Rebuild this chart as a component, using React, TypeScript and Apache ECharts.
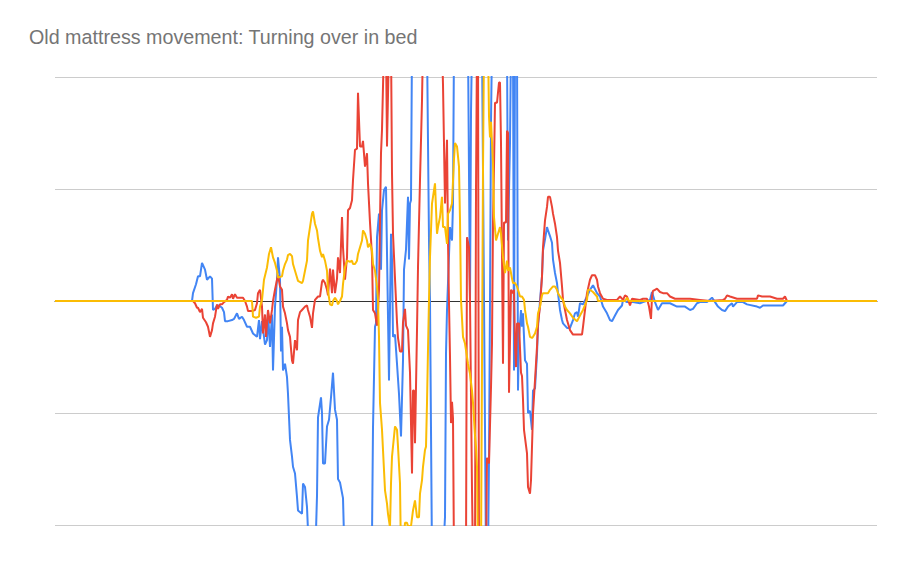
import React, { useEffect, useRef } from "react";
import * as echarts from "echarts";

// sample index (x) and acceleration (y)
const blue: [number, number][] = [
  [0, 0], [67.5, 0], [68.5, 0], [69, 0.07], [70.5, 0.15], [71.5, 0.22], [72.5, 0.22], [73.5, 0.34], [74.5, 0.3], [75, 0.28],
  [76, 0.19], [77.5, 0.22], [78.5, 0.2], [79, -0.08], [80, -0.07], [81, -0.04], [82, -0.04], [83.5, -0.06], [84.5, -0.1], [85, -0.18],
  [86.5, -0.18], [88.5, -0.17], [89.5, -0.16], [91, -0.11], [92, -0.16], [93.5, -0.14], [94.5, -0.17], [96, -0.23], [97.5, -0.23], [99, -0.29],
  [101, -0.32], [102, -0.17], [102.5, -0.34], [103.5, -0.18], [105, -0.39], [106, -0.35], [106.5, -0.1], [107.5, -0.41], [108.5, -0.12], [109, -0.62],
  [110, -0.05], [111, 0.19], [111.5, 0.39], [112.5, 0.19], [113, -0.45], [113.5, -0.23], [114, -0.62], [115, -0.56], [116, -0.68], [116.5, -0.83],
  [117.5, -1.24], [118.5, -1.39], [119, -1.48], [120, -1.54], [121, -1.75], [121.5, -1.87], [123.5, -1.9], [124, -1.63], [125, -1.66], [126, -1.84],
  [126.5, -2.05], [128, -2.4], [130, -2.4], [130.5, -2.05], [131, -1.74], [131.5, -1.04], [133, -0.86], [133.5, -1.0], [134, -1.45], [135, -1.45],
  [136, -1.12], [137, -1.06], [138, -0.86], [139, -0.64], [140, -0.97], [141, -1.06], [141.5, -1.59], [142.5, -1.62], [144, -1.76], [144.5, -2.1],
  [145.5, -2.4], [157.5, -2.4], [158.5, -2.1], [159, -1.13], [160, -0.23], [160.5, -0.2], [161, 0.57], [162, 0.78], [163, 0.28], [163.5, 0.81],
  [164.5, 0.99], [165.5, 1.02], [166, 0.43], [167, -0.71], [168, 0.6], [168.5, 0.37], [169, -0.32], [170, -0.3], [171, -0.56], [172, -0.83],
  [173, -1.21], [174, -0.53], [174.5, 0.28], [175.5, 0.46], [176.5, 0.93], [177, 0.37], [177.5, 0.87], [178, 0.9], [178.5, 2.3], [182.5, 2.4],
  [186, 2.3], [187, 0.54], [187.5, 0.0], [188.5, -2.3], [191.5, -2.4], [194.5, -2.1], [195, -1.93], [195.5, -0.47], [196, -0.08], [196.5, 0.16],
  [197.5, 0.66], [198, 0.6], [198.5, 0.54], [199, 0.87], [199.5, 2.3], [203.5, 2.4], [206.5, 2.3], [207.5, -0.02], [208, 1.68], [208.5, 2.3],
  [212.5, 2.4], [213.5, 2.3], [214, 1.17], [215.5, -2.3], [216.5, -2.3], [217, -1.4], [217.5, 0.0], [218, 1.6], [218.5, 2.3], [222.5, 2.4],
  [226, 2.3], [226.5, 0.54], [227.5, 1.41], [228, 2.3], [229, 2.3], [229.5, -0.62], [230, 2.3], [231, 2.3], [231.5, -0.8], [232, -0.32],
  [233, -0.08], [233.5, -0.23], [234, -0.11], [235, -0.53], [236, -0.56], [236.5, -1.0], [237.5, -0.98], [238.5, -1.15], [239, -0.8], [240, -0.78],
  [241, -0.47], [241.5, -0.23], [242.5, 0.0], [243.5, 0.22], [244, 0.45], [245, 0.55], [246, 0.66], [246.5, 0.63], [247.5, 0.58], [248.5, 0.52],
  [249, 0.37], [250, 0.25], [251, 0.16], [251.5, 0.07], [252.5, -0.08], [253.5, -0.17], [254, -0.2], [256, -0.24], [257.5, -0.24], [259, -0.17],
  [260, -0.11], [261, -0.1], [261.5, -0.14], [262.5, -0.02], [264, -0.03], [266, 0.04], [267.5, 0.1], [269, 0.14], [271, 0.07], [272.5, 0.04],
  [274, -0.05], [276, -0.11], [277.5, -0.17], [278.5, -0.18], [280, -0.13], [281.5, -0.08], [283.5, -0.04], [284, 0.01], [286, -0.01], [287.5, -0.01],
  [289, -0.01], [292.5, -0.02], [294, -0.01], [297.5, 0.01], [298.5, 0.08], [300, -0.01], [301.5, -0.08], [303.5, -0.02], [305, -0.02], [307.5, -0.02],
  [311, -0.05], [315, -0.05], [317.5, -0.08], [319, -0.07], [321, -0.02], [322.5, -0.01], [326, -0.01], [328.5, 0.03], [330, -0.01], [331.5, -0.05],
  [333.5, -0.08], [335, -0.09], [336.5, -0.05], [338.5, -0.02], [339, -0.05], [341, -0.01], [344, -0.01], [346, -0.03], [351, -0.05], [352.5, -0.06],
  [354, -0.04], [357.5, -0.04], [361, -0.04], [364, -0.04], [366, 0.0], [411, 0],
];

const red: [number, number][] = [
  [0, 0], [69, 0], [70, -0.02], [71, -0.06], [71.5, -0.06], [72.5, -0.1], [73.5, -0.07], [74, -0.15], [75.5, -0.19], [76.5, -0.23],
  [77.5, -0.32], [78.5, -0.26], [79, -0.2], [80, -0.14], [81, -0.03], [81.5, -0.07], [82.5, -0.03], [83.5, -0.03], [84.5, -0.01], [86, 0.01],
  [86.5, 0.04], [87.5, 0.03], [88.5, 0.06], [89, 0.02], [90, 0.06], [91, 0.03], [92.5, 0.03], [94, 0.03], [95, 0.0], [96, -0.05],
  [96.5, -0.09], [98.5, -0.09], [100, -0.08], [101, -0.02], [101.5, 0.07], [102.5, 0.1], [103.5, -0.05], [104, -0.29], [105, -0.12], [105.5, -0.32],
  [106.5, -0.08], [107.5, -0.2], [108.5, -0.08], [109, 0.0], [110, 0.1], [111, 0.19], [111.5, 0.23], [112.5, 0.13], [113.5, 0.1], [114, -0.05],
  [115, -0.11], [116, -0.2], [116.5, -0.26], [117.5, -0.32], [118.5, -0.53], [119, -0.56], [120, -0.35], [121, -0.44], [121.5, -0.17], [122.5, -0.1],
  [123.5, -0.08], [125, -0.05], [126, -0.04], [126.5, -0.08], [127.5, -0.14], [128.5, -0.24], [129, -0.11], [130, 0.01], [131.5, 0.04], [132.5, 0.04],
  [133.5, 0.17], [134, 0.19], [135, 0.16], [136, 0.1], [136.5, 0.05], [137.5, 0.29], [138.5, 0.07], [139, 0.28], [140, 0.07], [141, 0.2],
  [141.5, 0.39], [142.5, 0.25], [143.5, 0.75], [144, 0.48], [145, 0.19], [146, 0.39], [146.5, 0.81], [147.5, 0.83], [148.5, 0.9], [149, 1.08],
  [150, 1.35], [151, 1.36], [151.5, 1.86], [152.5, 1.38], [153.5, 1.38], [154, 1.43], [155, 1.2], [156, 1.32], [156.5, 1.05], [157.5, 0.7],
  [158.5, 0.4], [159, -0.08], [160, -0.11], [161, -0.22], [161.5, -0.08], [162, 0.1], [163, 1.32], [163.5, 1.53], [164.5, 2.3], [165.5, 2.3],
  [166, 1.38], [167, 2.3], [168, 2.3], [168.5, 1.14], [169, 0.6], [170, 0.2], [171, -0.19], [171.5, -0.33], [172.5, -0.45], [173.5, -0.45],
  [174, -0.19], [175, -0.07], [175.5, -0.22], [176.5, -0.26], [177.5, -0.64], [178.5, -1.54], [179, -0.8], [179.5, -0.8], [180, -1.27], [181, -0.26],
  [181.5, 0.3], [182.5, 1.08], [183.5, 1.79], [184, 2.3], [188.5, 2.4], [193.5, 2.3], [194, 1.93], [195, 0.87], [196, 1.44], [196.5, 0.54],
  [197, -0.02], [197.5, -0.5], [198, -1.09], [198.5, -0.9], [199, -1.05], [199.5, -2.3], [202.5, -2.4], [205.5, -2.3], [206, 0.57], [207, 0.48],
  [207.5, 0.0], [208.5, -1.69], [209, -2.3], [210, -2.3], [210.5, 0.99], [211, 2.3], [211.5, 2.3], [212, -2.3], [215.5, -2.3], [216, -1.4],
  [217, -1.45], [218, -0.77], [218.5, -0.38], [219, 0.7], [219.5, 1.2], [220, 1.77], [221, 1.77], [222, 1.95], [222.5, 1.95], [223, 1.41],
  [224, -0.56], [224.5, 0.7], [225.5, 0.7], [226, 1.52], [226.5, 1.5], [227, -0.82], [228, 0.1], [229, 0.07], [229.5, 0.1], [230, -0.4],
  [230.5, -0.59], [231, -0.2], [232, -0.2], [233, -0.64], [233.5, -0.67], [234, -0.88], [234.5, -1.15], [236, -1.36], [236.5, -1.66], [237.5, -1.72],
  [238, -1.6], [239, -1.0], [240, -0.71], [241, -0.41], [241.5, -0.2], [242.5, -0.05], [243.5, 0.22], [244, 0.48], [245, 0.72], [246, 0.84],
  [246.5, 0.93], [247.5, 0.93], [248.5, 0.84], [249, 0.78], [250, 0.69], [251, 0.57], [251.5, 0.45], [252.5, 0.34], [253.5, 0.13], [254, 0.01],
  [256, -0.17], [257.5, -0.26], [259, -0.3], [261.5, -0.3], [263.5, -0.3], [264, -0.23], [266, 0.07], [267.5, 0.19], [268.5, 0.23], [270, 0.23],
  [271, 0.19], [271.5, 0.13], [272.5, 0.07], [274, 0.02], [276, 0.01], [277.5, 0.01], [279, 0.01], [281, 0.01], [282.5, 0.04], [284, 0.01],
  [285, 0.05], [286, 0.04], [287.5, -0.04], [288.5, 0.02], [292.5, 0.01], [294, 0.02], [296, 0.02], [297, -0.05], [298, -0.16], [298.5, 0.04],
  [299, 0.09], [300, 0.1], [301, 0.11], [302.5, 0.08], [304, 0.07], [306, 0.07], [307.5, 0.04], [310, 0.02], [312.5, 0.02], [317.5, 0.02],
  [322.5, 0.01], [327.5, 0.0], [334, 0.01], [335, 0.02], [336, 0.05], [337.5, 0.04], [341, 0.02], [346, 0.02], [351, 0.02], [351.5, 0.05],
  [353.5, 0.04], [357.5, 0.04], [361, 0.02], [364, 0.02], [365, 0.04], [366, 0.0], [411, 0],
];

const yellow: [number, number][] = [
  [0, 0], [98.5, 0], [99, -0.14], [100.5, -0.15], [102, -0.14], [102.5, -0.05], [103.5, 0.01], [104.5, 0.19], [106, 0.3], [107, 0.42],
  [108, 0.48], [109, 0.39], [110, 0.34], [111, 0.27], [111.5, 0.21], [113.5, 0.22], [114, 0.27], [115, 0.33], [116, 0.37], [116.5, 0.41],
  [117.5, 0.42], [118.5, 0.4], [119, 0.33], [120, 0.27], [121, 0.21], [121.5, 0.18], [123.5, 0.16], [124, 0.18], [125, 0.27], [126, 0.36],
  [126.5, 0.54], [127.5, 0.66], [128.5, 0.78], [129, 0.8], [130, 0.69], [131, 0.63], [131.5, 0.56], [132.5, 0.45], [133.5, 0.39], [134, 0.42],
  [135, 0.36], [136, 0.27], [136.5, 0.09], [137.5, -0.03], [138.5, -0.04], [139, 0.0], [140, 0.03], [141, 0.0], [141.5, -0.03], [142.5, 0.0],
  [143.5, 0.04], [144, 0.15], [145, 0.3], [146, 0.36], [147.5, 0.35], [148.5, 0.36], [149, 0.33], [150, 0.33], [151, 0.36], [151.5, 0.42],
  [152.5, 0.48], [153.5, 0.54], [154, 0.63], [155, 0.6], [156, 0.54], [156.5, 0.48], [157.5, 0.51], [158.5, 0.45], [159, 0.33], [160, 0.27],
  [161, 0.13], [161.5, 0.01], [162, -0.32], [162.5, -0.91], [163.5, -1.15], [164, -1.33], [165, -1.69], [166, -1.81], [166.5, -1.9], [167.5, -2.02],
  [168, -1.63], [168.5, -1.39], [169, -1.3], [170, -1.12], [171, -1.15], [171.5, -1.3], [172.5, -1.63], [173, -2.3], [174.5, -2.1], [175, -1.98],
  [176, -1.98], [176.5, -2.01], [178, -2.01], [179, -1.87], [180, -1.78], [181, -1.93], [182, -1.93], [182.5, -1.72], [183.5, -1.6], [184, -1.48],
  [185, -1.33], [185.5, -1.3], [186, -0.91], [186.5, -0.43], [187, 0.01], [187.5, 0.39], [188.5, 0.87], [189, 0.93], [190, 1.05], [191, 0.6],
  [191.5, 0.66], [192.5, 0.75], [193.5, 0.93], [194, 0.66], [195, 0.66], [196, 0.51], [196.5, 0.78], [197.5, 0.81], [198.5, 0.87], [199.5, 1.27],
  [200, 1.41], [201, 1.38], [202, 1.2], [202.5, 0.72], [203, 0.01], [204, -0.32], [205, -0.38], [205.5, -0.44], [206.5, -0.56], [207.5, -0.65],
  [208.5, -0.8], [209, -0.91], [210, -1.2], [210.5, -1.3], [211, -1.48], [211.5, -2.3], [213, -2.3], [214, 1.17], [214.5, 2.3], [216.5, 2.3],
  [217, 1.65], [217.5, 1.46], [218, 1.6], [219, 1.23], [219.5, 0.75], [220.5, 0.54], [221.5, 0.6], [222, 0.63], [222.5, 0.66], [223, 0.6],
  [224, 0.39], [225, 0.25], [226, 0.36], [226.5, 0.27], [227.5, 0.3], [228.5, 0.2], [229, 0.16], [230, 0.16], [231, 0.13], [232, 0.07],
  [232.5, 0.04], [233.5, 0.04], [234.5, 0.01], [235, -0.08], [236, -0.2], [236.5, -0.23], [237.5, -0.32], [238.5, -0.33], [239, -0.32], [240, -0.29],
  [241, -0.23], [241.5, -0.11], [242.5, -0.05], [243.5, 0.05], [244, 0.07], [246, 0.07], [246.5, 0.07], [247.5, 0.1], [249, 0.13], [250, 0.13],
  [251, 0.1], [251.5, 0.07], [252.5, 0.04], [253.5, 0.02], [254, 0.01], [255, -0.05], [256, -0.08], [257.5, -0.11], [259, -0.15], [261, -0.18],
  [262.5, -0.13], [264, -0.08], [266, 0.01], [266.5, 0.1], [267.5, 0.1], [269, 0.08], [271, 0.04], [271.5, 0.0], [285, 0.0], [286, 0.03],
  [287, 0.0], [411, 0],
];

const seriesNames = ["X", "Y", "Z"];
const seriesColors = ["#4285F4", "#EA4335", "#FBBC04"];

export default function App() {
  const ref = useRef<HTMLDivElement>(null);
  useEffect(() => {
    if (!ref.current) return;
    const chart = echarts.init(ref.current, null, { renderer: "svg" });
    const datasets = [blue, red, yellow];
    chart.setOption({
      animation: false,
      backgroundColor: "#ffffff",
      title: {
        text: "Old mattress movement: Turning over in bed",
        left: 24,
        top: 22,
        textStyle: {
          fontFamily: "Liberation Sans, Arial, sans-serif",
          fontSize: 19.7,
          fontWeight: "normal",
          color: "#757575",
        },
      },
      grid: { left: 55, right: 29, top: 77, bottom: 36, containLabel: false },
      xAxis: {
        type: "value",
        min: 0,
        max: 411,
        axisLine: { show: true, onZero: true, lineStyle: { color: "#333333", width: 1 } },
        axisTick: { show: false },
        axisLabel: { show: false },
        splitLine: { show: false },
      },
      yAxis: {
        type: "value",
        min: -2,
        max: 2,
        interval: 1,
        axisLine: { show: false },
        axisTick: { show: false },
        axisLabel: { show: false },
        splitLine: { show: true, lineStyle: { color: "#cccccc", width: 1 } },
      },
      series: datasets.map((d, i) => ({
        name: seriesNames[i],
        type: "line",
        data: d,
        showSymbol: false,
        symbol: "none",
        clip: true,
        lineStyle: { color: seriesColors[i], width: 2 },
        itemStyle: { color: seriesColors[i] },
        z: 2 + i,
      })),
    });
    return () => chart.dispose();
  }, []);
  return (
    <div
      ref={ref}
      style={{ position: "fixed", left: 0, top: 0, width: 906, height: 561 }}
    />
  );
}
